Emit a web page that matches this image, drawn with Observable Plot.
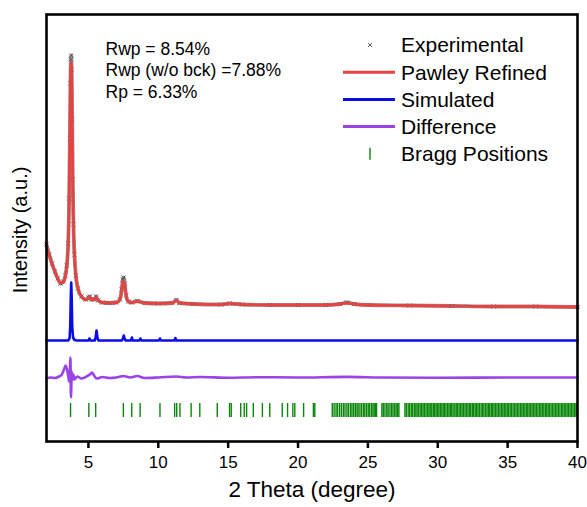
<!DOCTYPE html>
<html><head><meta charset="utf-8">
<script src="https://cdn.jsdelivr.net/npm/d3@7"></script>
<script src="https://cdn.jsdelivr.net/npm/@observablehq/plot@0.6"></script>
<style>body{margin:0;background:#fff;} #chart{width:587px;height:507px;}</style>
</head><body><div id="chart"></div>
<script>
// ---- data (intensity in arbitrary units, offsets included as plotted) ----
const patternTheta = [2.0,2.2,2.4,2.6,2.8,3.0,3.2,3.35,3.45,3.55,3.62,3.67,3.71,3.74,3.77,3.80,3.84,3.88,3.93,4.0,4.1,4.25,4.5,4.8,5.0,5.1,5.2,5.4,5.55,5.7,6.0,6.5,7.0,7.25,7.38,7.46,7.52,7.6,7.7,7.85,8.1,8.5,9.0,10.0,11.0,11.3,11.5,12.5,14.5,15.1,16,18,20,22,23,23.5,24,25,28,31,34,37,40];
const experimental = [197,187,178,170,163,158,160,166,176,198,243,303,358,382,386,372,322,262,217,187,166,153,145,142,144,145,142,142,145,141,139,138.5,139,142,152,162,164,158,146,140,139,140.5,138.5,138,138.5,141.5,138.5,137.5,137,138,137,136.5,136.5,136.5,137.5,139,137.5,136.5,136,135.5,135,135,134.5];
const pawley = [196,186,177,170,163,159,159,165,175,196,241,300,352,375,379,367,320,261,216,186,166,153,145,142,143,144,142,142,144,141,139,138.5,139,142,151,159,160,156,146,140,139,140,138.5,138,138.5,141,138.5,137.5,137,138,137,136.5,136.5,136.5,137.5,138.5,137.5,136.5,136,135.5,135,135,134.5];

const simTheta = [2.0,3.55,3.65,3.7,3.74,3.77,3.8,3.84,3.9,4.0,4.2,5.0,5.07,5.13,5.45,5.52,5.58,5.64,5.72,7.4,7.47,7.53,7.59,7.66,8.05,8.11,8.17,8.65,8.72,8.79,10.05,10.12,10.19,11.15,11.22,11.29,40];
const simulated = [101,101,103,115,145,159,145,115,104,101.5,101,101,103,101,101,104,111,104,101,101,103,106,103,101,101,104,101,101,103,101,101,103,101,101,103.5,101,101];

const diffTheta = [2.0,2.3,2.6,2.9,3.1,3.25,3.37,3.47,3.55,3.62,3.67,3.70,3.72,3.74,3.76,3.78,3.8,3.85,3.92,4.0,4.2,4.5,4.8,5.1,5.25,5.4,5.6,6.0,6.5,7.0,7.5,8.0,8.5,9.0,10,11.3,12,13,15,17,20,23.5,26,30,35,40];
const difference = [63,64,63.5,65,67,72,76,72,66,60,68,84,80,50,44,58,70,62,67,62,65,63,64.5,67,69,66,63,64.5,63.5,64,65.5,64,65.5,63.5,64,65,64,64.5,63.8,64.3,64,64.6,64,63.8,64,64];

const braggPositions = [3.72,5.03,5.52,7.5,8.1,8.7,10.12,11.17,11.32,11.55,12.35,12.97,14.22,15.1,15.22,15.9,16.15,16.32,16.8,17.45,17.98,18.87,19.25,19.63,19.77,20.4,21.1,21.2,
22.45,22.58,22.72,22.83,22.97,23.1,23.24,23.36,23.5,23.61,23.75,23.86,23.98,24.1,24.22,24.3,24.43,24.55,24.68,24.78,24.9,25.02,25.12,25.25,25.36,25.45,25.55,25.62,
26.0,26.1,26.22,26.35,26.45,26.58,26.7,26.8,26.92,27.02,27.13,27.22,
27.65,27.75,27.88,27.98,28.1,28.2,28.32,28.43,28.52,28.63,28.74,28.85,28.95,29.05,29.16,29.27,29.37,29.46,29.57,29.68,29.78,29.88,29.98,30.08,30.18,30.29,30.39,30.49,30.59,30.7,30.8,30.9,31.0,31.1,31.22,31.32,31.42,31.53,31.64,31.74,31.84,31.95,32.05,32.16,32.26,32.36,32.47,32.57,32.68,32.78,32.88,32.98,33.1,33.2,33.3,33.41,33.52,33.62,33.72,33.83,33.93,34.03,34.14,34.24,34.35,34.45,34.56,34.66,34.76,34.87,34.97,35.07,35.18,35.28,35.39,35.5,35.6,35.7,35.81,35.92,36.02,36.12,36.23,36.34,36.44,36.54,36.65,36.75,36.86,36.96,37.06,37.17,37.28,37.38,37.48,37.59,37.7,37.8,37.9,38.0,38.11,38.22,38.32,38.43,38.53,38.63,38.74,38.85,38.95,39.05,39.16,39.26,39.37,39.47,39.58,39.68,39.79,39.89,39.98];
const braggBand = [24, 38];

const xTicks = [5,10,15,20,25,30,35,40];
const xLabel = "2 Theta (degree)";
const yLabel = "Intensity (a.u.)";
const rFactors = ["Rwp = 8.54%", "Rwp (w/o bck) =7.88%", "Rp = 6.33%"];
const legendLabels = ["Experimental","Pawley Refined","Simulated","Difference","Bragg Positions"];
const legendKinds = ["times","line","line","line","tick"];

// ---- styles ----
const C = {exp:"#4d4d4d", pawley:"#e84343", sim:"#0b0be8", diff:"#9a44e8", bragg:"#0a870a"};
const legendColors = [C.exp, C.pawley, C.sim, C.diff, C.bragg];
const FONT = "'Liberation Sans', Arial, Helvetica, sans-serif";

const zip = (xs, ys) => xs.map((x,i)=>({x, y: ys[i]}));
const expData = zip(patternTheta, experimental);
const pawData = zip(patternTheta, pawley);
const simData = zip(simTheta, simulated);
const diffData = zip(diffTheta, difference);

const plot = Plot.plot({
  width: 587, height: 507,
  marginLeft: 46, marginRight: 10, marginTop: 14, marginBottom: 66,
  style: {fontFamily: FONT, background: "#fff", color: "#000"},
  x: {domain: [2, 40]},
  y: {domain: [0, 427], axis: null},
  marks: [
    Plot.ruleX(braggPositions, {x: d => d, y1: braggBand[0], y2: braggBand[1], stroke: C.bragg, strokeWidth: 1.4}),
    Plot.line(diffData, {x: "x", y: "y", stroke: C.diff, strokeWidth: 2.6, curve: "monotone-x"}),
    Plot.line(simData, {x: "x", y: "y", stroke: C.sim, strokeWidth: 2.6}),
    Plot.line(expData, {x: "x", y: "y", stroke: C.exp, strokeWidth: 3.8, strokeOpacity: 0.6, curve: "monotone-x"}),
    Plot.dot(expData, {x: "x", y: "y", symbol: "times", r: 2, stroke: C.exp, strokeWidth: 0.9}),
    Plot.line(pawData, {x: "x", y: "y", stroke: C.pawley, strokeWidth: 2.8, curve: "monotone-x"}),
    Plot.axisX({ticks: xTicks, tickSize: 7, tickPadding: 7, fontSize: 17, strokeWidth: 2.5, label: null}),
    Plot.frame({stroke: "#000", strokeWidth: 2.6}),
    Plot.text([xLabel], {frameAnchor: "bottom", dy: 55, fontSize: 22.5}),
    Plot.text([yLabel], {frameAnchor: "left", textAnchor: "middle", dx: -26, dy: 2, rotate: -90, fontSize: 20}),
    ...rFactors.map((t, i) => Plot.text([t], {frameAnchor: "top-left", textAnchor: "start", dx: 59, dy: 28 + i * 21.5, fontSize: 17.5}))
  ]
});
document.getElementById("chart").append(plot);

// ---- legend (inside frame, upper right) ----
const svg = d3.select(plot);
const lg = svg.append("g").attr("font-family", FONT).attr("font-size", 21).attr("fill", "#000").attr("text-anchor", "start");
legendLabels.forEach((label, i) => {
  const y = 45 + i * 27.2;
  const kind = legendKinds[i], col = legendColors[i];
  if (kind === "line") {
    lg.append("line").attr("x1", 343).attr("x2", 395).attr("y1", y).attr("y2", y)
      .attr("stroke", col).attr("stroke-width", 3);
  } else if (kind === "times") {
    lg.append("path").attr("d", `M${368},${y-2}L${372},${y+2}M${368},${y+2}L${372},${y-2}`)
      .attr("stroke", col).attr("stroke-width", 0.9);
  } else {
    lg.append("line").attr("x1", 370).attr("x2", 370).attr("y1", y - 6).attr("y2", y + 6)
      .attr("stroke", col).attr("stroke-width", 1.4);
  }
  lg.append("text").attr("x", 401).attr("y", y).attr("dy", "0.35em").text(label);
});
</script>
</body></html>
